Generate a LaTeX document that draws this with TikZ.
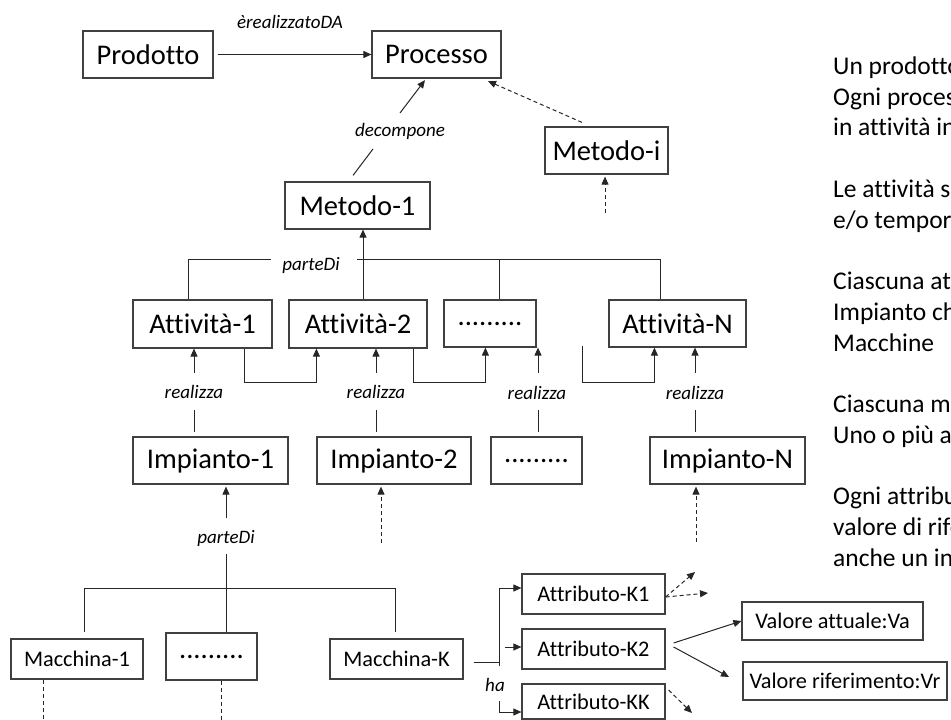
\documentclass[tikz,border=0pt]{standalone}
\usepackage{fontspec}
\setmainfont{Carlito}[Ligatures={NoCommon,NoContextual}]
\usetikzlibrary{arrows.meta}
\definecolor{boxgray}{HTML}{404040}
\begin{document}
\begin{tikzpicture}[x=1pt,y=-1pt,
  box/.style={draw=boxgray, line width=1.2pt, inner sep=0pt, font=\fontsize{28.5}{34}\selectfont},
  smallbox/.style={draw=boxgray, line width=1.2pt, inner sep=0pt, font=\fontsize{22.3}{27}\selectfont},
  lbl/.style={inner sep=0pt, font=\fontsize{19}{23}\selectfont\itshape},
  link/.style={line width=1pt, draw=black!85},
  arr/.style={link, -{Triangle[length=8pt,width=7pt]}},
  darr/.style={arr, dash pattern=on 4pt off 3pt},
  dline/.style={link, dash pattern=on 4pt off 3pt},
  note/.style={anchor=base west, inner sep=0pt, font=\fontsize{25.5}{31}\selectfont}
]
\useasboundingbox (0,0) rectangle (951,720);
\clip (0,0) rectangle (951,720);

% ---- boxes ----
\node[box, minimum width=130pt, minimum height=47pt] (prodotto) at (148,54.5) {Prodotto};
\node[box, minimum width=129pt, minimum height=47pt] (processo) at (436.5,54.5) {Processo};
\node[box, minimum width=145pt, minimum height=47pt] (metodo1) at (357.5,205.5) {Metodo-1};
\node[box, minimum width=123pt, minimum height=47pt] (metodoi) at (606.5,150.5) {Metodo-i};

\node[box, minimum width=139pt, minimum height=48pt] (att1) at (202.5,324) {Attività-1};
\node[box, minimum width=138pt, minimum height=48pt] (att2) at (358,324) {Attività-2};
\node[box, minimum width=92pt, minimum height=47pt] (attdots) at (490,323.5) {.........};
\node[box, minimum width=137pt, minimum height=47pt] (attN) at (677.5,323.5) {Attività-N};

\node[box, minimum width=155pt, minimum height=47pt] (imp1) at (210.5,460.5) {Impianto-1};
\node[box, minimum width=154pt, minimum height=47pt] (imp2) at (394,460.5) {Impianto-2};
\node[box, minimum width=91pt, minimum height=47pt] (impdots) at (536.5,460.5) {.........};
\node[box, minimum width=155pt, minimum height=47pt] (impN) at (727.5,460.5) {Impianto-N};

\node[smallbox, minimum width=132pt, minimum height=40pt] (mac1) at (77,659) {Macchina-1};
\node[box, minimum width=91pt, minimum height=47pt] (macdots) at (211.5,656.5) {.........};
\node[smallbox, minimum width=133pt, minimum height=40pt] (macK) at (396.5,659) {Macchina-K};

\node[smallbox, minimum width=143pt, minimum height=40pt] (attrK1) at (593.5,594) {Attributo-K1};
\node[smallbox, minimum width=143pt, minimum height=40pt] (attrK2) at (593.5,649) {Attributo-K2};
\node[smallbox, minimum width=143pt, minimum height=35pt] (attrKK) at (593.5,701.5) {Attributo-KK};

\node[smallbox, minimum width=181pt, minimum height=38pt] (va) at (832.5,621) {Valore attuale:Va};
\node[smallbox, minimum width=204pt, minimum height=38pt] (vr) at (845,681) {Valore riferimento:Vr};

% ---- Prodotto -> Processo ----
\draw[arr] ([xshift=4pt]prodotto.east) -- (processo.west);
\node[lbl] (lblReal) at (290,22) {èrealizzatoDA};

% ---- decompone ----
\coordinate (dec1) at (373,149);
\coordinate (dec2) at (400,113);
\draw[link] ([xshift=-4.5pt,yshift=6pt]metodo1.north) -- (dec1);
\draw[arr] (dec2) -- ([xshift=-11.5pt,yshift=-1.5pt]processo.south);
\node[lbl] (lblDec) at (400,131) {decompone};

% ---- Metodo-i ----
\draw[darr] ([xshift=-24.5pt,yshift=4pt]metodoi.north) -- ([xshift=51.5pt,yshift=-2.5pt]processo.south);
\coordinate (miLow) at (605,213);
\draw[darr, shorten >=2pt] (miLow) -- (miLow |- metodoi.south);

% ---- parteDi bus over the activities ----
\coordinate (busL) at (188,259);
\coordinate (gapL) at (271,259);
\coordinate (gapR) at (357,259);
\coordinate (busD) at (499,259);
\coordinate (busR) at (660,259);
\draw[link] (busL |- att1.north) -- (busL) -- (gapL);
\draw[link] (gapR) -- (busR) -- (busR |- attN.north);
\draw[link] (busD) -- (busD |- attdots.north);
\draw[arr] ([xshift=5pt]att2.north) -- ([xshift=5.5pt]metodo1.south);
\node[lbl] (lblPD1) at (311,265) {parteDi};

% ---- links between activities ----
\draw[arr] ([xshift=-28pt]att1.south east) -- ++(0,34) -| ([xshift=28pt]att2.south west);
\draw[arr] ([xshift=-14pt]att2.south east) -- ++(0,34) -| ([xshift=42pt]attdots.south west);
\coordinate (loopN) at (582,346);
\draw[arr] (loopN) -- ++(0,36) -| ([xshift=46pt]attN.south west);

% ---- realizza ----
\coordinate (r1) at (194,373);   \coordinate (s1) at (194,410);
\coordinate (r2) at (376,373);   \coordinate (s2) at (376,410);
\coordinate (r3) at (538,373);   \coordinate (s3) at (538,410);
\coordinate (r4) at (695,373);   \coordinate (s4) at (695,410);
\draw[arr] (r1) -- (r1 |- att1.south);
\draw[arr] (r2) -- (r2 |- att2.south);
\draw[arr] (r3) -- (r3 |- attdots.south);
\draw[arr] (r4) -- (r4 |- attN.south);
\draw[link, shorten >=4pt] (s1) -- (s1 |- imp1.north);
\draw[link, shorten >=4pt] (s2) -- (s2 |- imp2.north);
\draw[link, shorten >=4pt] (s3) -- (s3 |- impdots.north);
\draw[link, shorten >=4pt] (s4) -- (s4 |- impN.north);
\node[lbl] (lblR1) at (194,392) {realizza};
\node[lbl] (lblR2) at (376,392) {realizza};
\node[lbl] (lblR3) at (537,393) {realizza};
\node[lbl] (lblR4) at (695,393) {realizza};

% ---- dashed arrows under the plants ----
\coordinate (q2) at (381,543);
\coordinate (qN) at (696,542);
\draw[darr, shorten >=2pt] (q2) -- (q2 |- imp2.south);
\draw[darr, shorten >=2pt] (qN) -- (qN |- impN.south);

% ---- machines of Impianto-1 ----
\coordinate (p1) at (226,518);
\coordinate (p2) at (226,554);
\draw[arr, shorten >=2pt] (p1) -- (p1 |- imp1.south);
\node[lbl] (lblPD2) at (226,538) {parteDi};
\draw[link] (p2) -- (p2 |- macdots.north);
\coordinate (mbL) at (84,588);
\coordinate (mbR) at (395,588);
\draw[link, shorten <=6pt, shorten >=6pt] (mbL |- mac1.north) -- (mbL) -- (mbR) -- (mbR |- macK.north);
\draw[dline] ([xshift=-34pt]mac1.south) -- ++(0,42);
\draw[dline] ([xshift=9.5pt]macdots.south) -- ++(0,42);

% ---- attributes ----
\coordinate (hT) at (499,588);
\coordinate (hB) at (499,666);
\coordinate (hM) at (505,647);
\coordinate (hK) at (499,701);
\coordinate (hK2) at (499,712);
\draw[link] ([xshift=10pt,yshift=-3pt]macK.east) -- ++(26,0);
\draw[link] (hB) -- (hT);
\draw[arr] (hT) -- (hT -| attrK1.west);
\draw[arr] (hM) -- (hM -| attrK2.west);
\draw[arr] (hK) -- (hK2) -- (hK2 -| attrKK.west);
\node[lbl] (lblHa) at (495,685) {ha};

\coordinate (e1) at (695,572);
\coordinate (e2) at (708,593);
\coordinate (e3) at (692,713);
\coordinate (e4) at (729,677);
\draw[darr] ([yshift=-3pt]attrK1.east) -- (e1);
\draw[darr] ([yshift=-3pt]attrK1.east) -- (e2);
\draw[darr] ([xshift=3pt,yshift=11.5pt]attrKK.east) -- (e3);
\draw[arr] ([xshift=8pt,yshift=6pt]attrK2.east) -- (va.west);
\draw[arr] ([xshift=8pt,yshift=2pt]attrK2.east) -- (e4);

% ---- description column ----
\node[note] (t1)  at (833,74)    {Un prodotto};
\node[note] (t2)  at (833,105)   {Ogni processo};
\node[note] (t3)  at (833,135.5) {in attività in};
\node[note] (t4)  at (833,197)   {Le attività sono};
\node[note] (t5)  at (833,228)   {e/o temporali};
\node[note] (t6)  at (833,289)   {Ciascuna attività};
\node[note] (t7)  at (833,320)   {Impianto che};
\node[note] (t8)  at (833,351)   {Macchine};
\node[note] (t9)  at (833,412)   {Ciascuna macchina};
\node[note] (t10) at (833,443)   {Uno o più attributi};
\node[note] (t11) at (833,504.5) {Ogni attributo};
\node[note] (t12) at (833,535)   {valore di riferimento};
\node[note] (t13) at (833,566)   {anche un in};
\end{tikzpicture}
\end{document}
